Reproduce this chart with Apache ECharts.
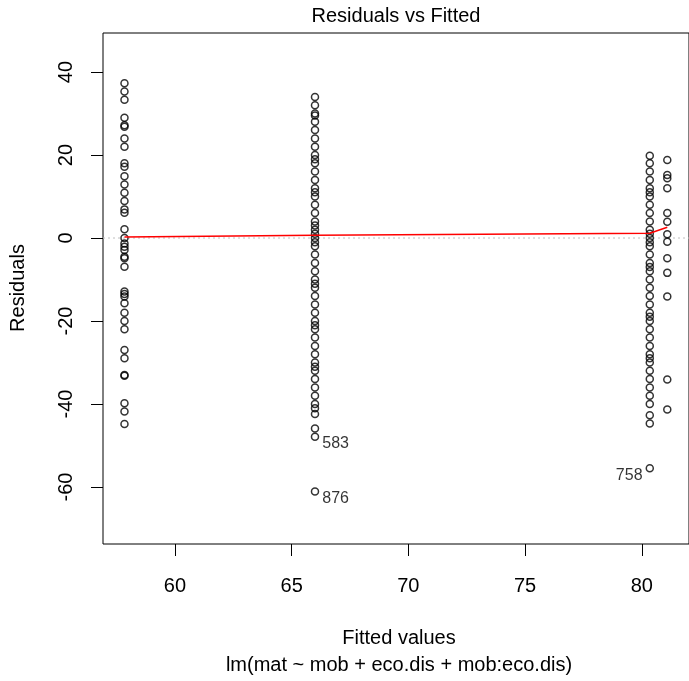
<!DOCTYPE html>
<html><head><meta charset="utf-8">
<script src="https://cdn.jsdelivr.net/npm/echarts@6/dist/echarts.min.js"></script>
<style>html,body{margin:0;padding:0;background:#fff}#c{width:689px;height:681px}</style>
</head><body><div id="c"></div>
<script>
// Fitted value of each column of points
const fittedGroups = [57.84, 66.0, 80.34, 81.09];
// Residuals read from each column
const resid57 = [37.3, 35.3, 33.3, 29.0, 27.2, 26.8, 24.0, 22.0, 18.0, 17.2, 14.9, 12.9, 10.9, 8.9, 6.9, 6.1, 2.1, 0.0, -1.3, -2.1, -2.9, -4.5, -4.9, -6.9, -12.9, -13.5, -14.1, -15.7, -18.0, -20.0, -22.0, -27.0, -29.0, -33.0, -33.2, -39.8, -41.8, -44.8];
const resid66 = [34, 32, 30, 29.5, 28, 26, 24, 22, 20, 19, 18, 16, 14, 12, 11, 10, 8, 6, 4, 3, 2, 1, 0, -1, -2, -4, -6, -8, -10, -11, -12, -14, -16, -18, -20, -21, -22, -24, -26, -28, -30, -31, -32, -34, -36, -38, -40, -41, -42.4, -45.9];
const resid80 = [19.8, 18, 16, 14, 12, 11, 10, 8, 6, 4, 2, 1, 0, -1, -2, -4, -6, -7, -8, -10, -12, -14, -16, -18, -19, -20, -22, -24, -26, -28, -29, -30, -32, -34, -36, -38, -40, -42.7, -44.7];
const resid81 = [18.8, 15.2, 14.4, 12.0, 6.0, 3.9, 0.9, -0.9, -4.9, -8.4, -14.1, -34.1, -41.3];
// Labelled outliers
const outlierIds = ['583', '876', '758'];
const outlierFitted = [66.0, 66.0, 80.34];
const outlierResid = [-47.9, -61.1, -55.5];
const outlierSide = ['right', 'right', 'left'];
// Red smoother
const smoothX = [57.84, 66.0, 80.34, 81.09];
const smoothY = [0.25, 0.65, 1.15, 2.6];
// Ticks
const xTicks = [60, 65, 70, 75, 80];
const yTicks = [-60, -40, -20, 0, 20, 40];

const FONT = 'Liberation Sans, Arial, Helvetica, sans-serif';
const FS = 20;
const residCols = [resid57, resid66, resid80, resid81];
const pts = [];
residCols.forEach((col, i) => col.forEach(r => pts.push([fittedGroups[i], r])));

const circleStyle = { color: 'rgba(0,0,0,0)', borderColor: '#000', borderWidth: 1.5 };

const chart = echarts.init(document.getElementById('c'), null, { renderer: 'canvas' });
chart.setOption({
  animation: false,
  backgroundColor: '#fff',
  grid: { left: 103, top: 33, right: -4, bottom: 137, show: true, borderColor: '#000', borderWidth: 1, backgroundColor: 'transparent' },
  xAxis: {
    type: 'value', min: 56.92, max: 82.02,
    axisLine: { show: false, onZero: false },
    splitLine: { show: false },
    axisTick: { show: true, customValues: xTicks, length: 12, lineStyle: { color: '#000', width: 1 } },
    axisLabel: { customValues: xTicks, margin: 32, fontSize: FS, color: '#000', fontFamily: FONT }
  },
  yAxis: {
    type: 'value', min: -73.73, max: 49.4,
    axisLine: { show: false, onZero: false },
    splitLine: { show: false },
    axisTick: { show: true, customValues: yTicks, length: 12, lineStyle: { color: '#000', width: 1 } },
    axisLabel: { customValues: yTicks, margin: 27, fontSize: FS, color: '#000', fontFamily: FONT, rotate: 90 }
  },
  series: [
    {
      type: 'line', data: [[56.92, 0], [82.02, 0]], symbol: 'none', silent: true,
      lineStyle: { color: '#bebebe', width: 1, type: [2, 3] }, z: 1
    },
    {
      type: 'scatter', data: pts, symbol: 'circle', symbolSize: 7,
      itemStyle: circleStyle, z: 3
    },
    {
      type: 'line', data: smoothX.map((x, i) => [x, smoothY[i]]), symbol: 'none',
      lineStyle: { color: '#ff0000', width: 1.5 }, z: 4
    },
    {
      type: 'scatter', symbol: 'circle', symbolSize: 7, itemStyle: circleStyle, z: 3,
      data: outlierIds.map((id, i) => ({
        value: [outlierFitted[i], outlierResid[i]],
        label: {
          show: true, formatter: id, position: outlierSide[i], distance: 3,
          offset: [0, 7], fontSize: 16, color: '#000', fontFamily: FONT
        }
      }))
    }
  ],
  graphic: [
    { type: 'text', x: 396, y: 16.5, style: { text: 'Residuals vs Fitted', font: FS + 'px ' + FONT, fill: '#000', textAlign: 'center', textVerticalAlign: 'middle' } },
    { type: 'text', x: 399, y: 638.5, style: { text: 'Fitted values', font: FS + 'px ' + FONT, fill: '#000', textAlign: 'center', textVerticalAlign: 'middle' } },
    { type: 'text', x: 399, y: 665, style: { text: 'lm(mat ~ mob + eco.dis + mob:eco.dis)', font: FS + 'px ' + FONT, fill: '#000', textAlign: 'center', textVerticalAlign: 'middle' } },
    { type: 'text', x: 18, y: 288, rotation: Math.PI / 2, style: { text: 'Residuals', font: FS + 'px ' + FONT, fill: '#000', textAlign: 'center', textVerticalAlign: 'middle' } }
  ]
});
</script></body></html>
